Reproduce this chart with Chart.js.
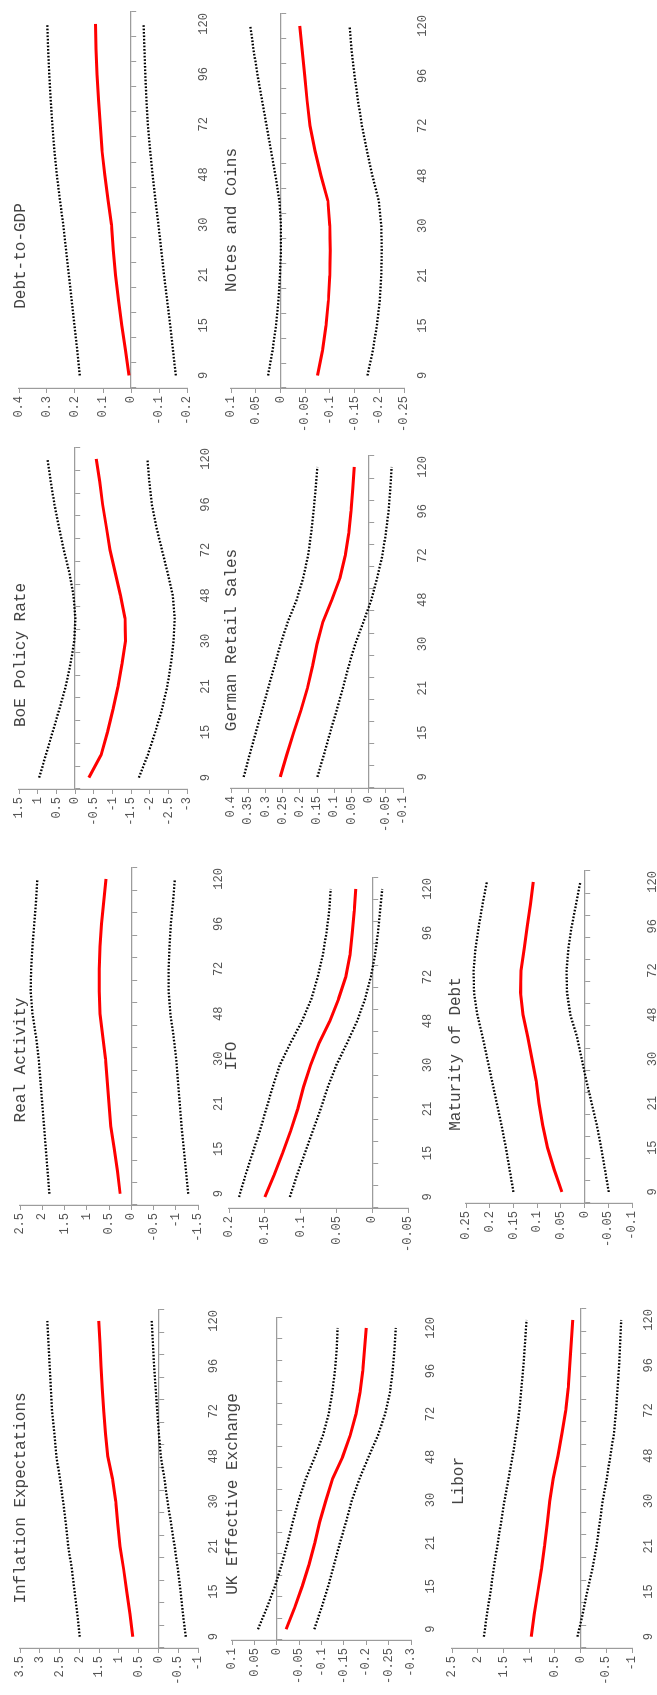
<!DOCTYPE html>
<html>
<head>
<meta charset="utf-8">
<script src="https://cdn.jsdelivr.net/npm/chart.js@4.4.1/dist/chart.umd.min.js"></script>
<style>
html, body { margin: 0; padding: 0; background: #fff; overflow: hidden; }
#page { position: relative; width: 657px; height: 1695px; overflow: hidden; }
/* the whole figure is laid out in landscape and turned a quarter left */
#fig { position: absolute; left: 0; top: 0; width: 1695px; height: 657px;
       transform-origin: 0 0; transform: translate(0px, 1695px) rotate(-90deg); }
#fig canvas { position: absolute; }
</style>
</head>
<body>
<div id="page"><div id="fig"></div></div>
<script>
const horizons = [9, 12, 15, 18, 21, 24, 30, 36, 48, 60, 72, 84, 96, 108, 120];
const tickLabels = [9, 15, 21, 30, 48, 72, 96, 120];

const inflMid = [0.65, 0.72, 0.80, 0.88, 0.97, 1.03, 1.08, 1.16, 1.28, 1.34, 1.38, 1.42, 1.45, 1.48, 1.51];
const inflUp  = [1.99, 2.05, 2.12, 2.19, 2.28, 2.34, 2.41, 2.49, 2.58, 2.63, 2.69, 2.72, 2.75, 2.78, 2.81];
const inflLo  = [-0.69, -0.62, -0.56, -0.49, -0.41, -0.32, -0.23, -0.15, -0.06, -0.01, 0.03, 0.07, 0.11, 0.14, 0.17];

const realMid = [0.25, 0.31, 0.38, 0.46, 0.50, 0.54, 0.58, 0.64, 0.70, 0.72, 0.72, 0.70, 0.67, 0.62, 0.57];
const realUp  = [1.84, 1.88, 1.92, 1.96, 2.00, 2.04, 2.08, 2.14, 2.22, 2.26, 2.25, 2.22, 2.18, 2.14, 2.11];
const realLo  = [-1.28, -1.23, -1.18, -1.13, -1.09, -1.05, -1.01, -0.95, -0.88, -0.84, -0.84, -0.86, -0.89, -0.94, -0.98];

const boeMid = [-0.37, -0.70, -0.87, -1.02, -1.15, -1.26, -1.35, -1.34, -1.22, -1.08, -0.94, -0.84, -0.74, -0.66, -0.57];
const boeUp  = [0.96, 0.78, 0.60, 0.42, 0.25, 0.12, 0.02, -0.01, 0.04, 0.15, 0.30, 0.43, 0.55, 0.65, 0.74];
const boeLo  = [-1.71, -1.95, -2.15, -2.33, -2.47, -2.57, -2.64, -2.67, -2.62, -2.48, -2.33, -2.18, -2.06, -1.99, -1.94];

const debtMid = [0.007, 0.02, 0.033, 0.045, 0.055, 0.063, 0.07, 0.082, 0.094, 0.104, 0.11, 0.116, 0.121, 0.125, 0.127];
const debtUp  = [0.183, 0.192, 0.202, 0.212, 0.222, 0.232, 0.242, 0.254, 0.265, 0.274, 0.281, 0.287, 0.292, 0.296, 0.299];
const debtLo  = [-0.16, -0.15, -0.14, -0.129, -0.118, -0.108, -0.098, -0.087, -0.077, -0.068, -0.06, -0.055, -0.051, -0.048, -0.045];

const ukMid = [-0.021, -0.040, -0.057, -0.072, -0.085, -0.096, -0.110, -0.125, -0.147, -0.164, -0.177, -0.186, -0.192, -0.196, -0.200];
const ukUp  = [0.042, 0.022, 0.004, -0.011, -0.024, -0.036, -0.049, -0.065, -0.085, -0.103, -0.116, -0.124, -0.130, -0.134, -0.136];
const ukLo  = [-0.084, -0.100, -0.115, -0.128, -0.141, -0.155, -0.168, -0.185, -0.205, -0.226, -0.242, -0.253, -0.259, -0.263, -0.266];

const ifoMid = [0.150, 0.137, 0.125, 0.114, 0.104, 0.096, 0.086, 0.074, 0.059, 0.047, 0.037, 0.031, 0.028, 0.025, 0.023];
const ifoUp  = [0.186, 0.177, 0.167, 0.157, 0.148, 0.139, 0.129, 0.114, 0.098, 0.085, 0.076, 0.069, 0.064, 0.060, 0.058];
const ifoLo  = [0.115, 0.105, 0.094, 0.083, 0.072, 0.062, 0.050, 0.035, 0.021, 0.010, 0.002, -0.004, -0.008, -0.011, -0.014];

const grsMid = [0.257, 0.238, 0.218, 0.197, 0.178, 0.163, 0.150, 0.133, 0.107, 0.083, 0.068, 0.058, 0.051, 0.046, 0.042];
const grsUp  = [0.363, 0.346, 0.328, 0.310, 0.292, 0.274, 0.256, 0.235, 0.209, 0.190, 0.176, 0.167, 0.160, 0.154, 0.149];
const grsLo  = [0.149, 0.130, 0.112, 0.093, 0.075, 0.058, 0.039, 0.015, -0.008, -0.025, -0.040, -0.050, -0.058, -0.063, -0.067];

const notesMid = [-0.075, -0.085, -0.092, -0.097, -0.100, -0.101, -0.100, -0.096, -0.082, -0.070, -0.060, -0.054, -0.049, -0.044, -0.039];
const notesUp  = [0.025, 0.016, 0.009, 0.004, 0.001, -0.001, -0.001, 0.002, 0.010, 0.019, 0.028, 0.037, 0.046, 0.054, 0.061];
const notesLo  = [-0.176, -0.187, -0.195, -0.201, -0.204, -0.205, -0.204, -0.199, -0.186, -0.175, -0.165, -0.157, -0.150, -0.144, -0.140];

const liborMid = [0.96, 0.90, 0.83, 0.76, 0.70, 0.65, 0.60, 0.53, 0.44, 0.36, 0.29, 0.24, 0.21, 0.18, 0.15];
const liborUp  = [1.88, 1.82, 1.75, 1.69, 1.62, 1.55, 1.48, 1.40, 1.32, 1.25, 1.19, 1.15, 1.11, 1.08, 1.05];
const liborLo  = [0.06, -0.04, -0.13, -0.23, -0.31, -0.37, -0.43, -0.51, -0.58, -0.65, -0.69, -0.72, -0.75, -0.77, -0.79];

const matMid = [0.048, 0.064, 0.078, 0.088, 0.096, 0.102, 0.111, 0.120, 0.130, 0.135, 0.134, 0.127, 0.121, 0.114, 0.108];
const matUp  = [0.150, 0.158, 0.166, 0.175, 0.185, 0.195, 0.205, 0.215, 0.226, 0.233, 0.234, 0.230, 0.223, 0.215, 0.206];
const matLo  = [-0.051, -0.043, -0.035, -0.026, -0.015, -0.004, 0.006, 0.016, 0.030, 0.037, 0.038, 0.034, 0.027, 0.018, 0.009];

// layout (landscape px): box = [y-axis x, right end, top tick y, bottom tick y]
const panels = [
  { title: 'Inflation Expectations', mid: inflMid, up: inflUp, lo: inflLo, min: -1, max: 3.5, step: 0.5, box: [47, 390, 20, 198], lab: 15, tx: 197, ty: 21 },
  { title: 'Real Activity', mid: realMid, up: realUp, lo: realLo, min: -1.5, max: 2.5, step: 0.5, box: [490, 837, 20, 198], lab: 20, tx: 635, ty: 21 },
  { title: 'BoE Policy Rate', mid: boeMid, up: boeUp, lo: boeLo, min: -3, max: 1.5, step: 0.5, box: [906, 1255, 19, 187], lab: 18, tx: 1040, ty: 21 },
  { title: 'Debt-to-GDP', mid: debtMid, up: debtUp, lo: debtLo, min: -0.2, max: 0.4, step: 0.1, box: [1307, 1688, 19, 187], lab: 16, tx: 1439, ty: 21 },
  { title: 'UK Effective Exchange', mid: ukMid, up: ukUp, lo: ukLo, min: -0.3, max: 0.1, step: 0.05, box: [55, 387, 232, 411], lab: 19, tx: 201, ty: 233 },
  { title: 'IFO', mid: ifoMid, up: ifoUp, lo: ifoLo, min: -0.05, max: 0.2, step: 0.05, box: [487, 826, 229, 408], lab: 19, tx: 639, ty: 232 },
  { title: 'German Retail Sales', mid: grsMid, up: grsUp, lo: grsLo, min: -0.1, max: 0.4, step: 0.05, box: [907, 1248, 231, 403], lab: 19, tx: 1055, ty: 232 },
  { title: 'Notes and Coins', mid: notesMid, up: notesUp, lo: notesLo, min: -0.25, max: 0.1, step: 0.05, box: [1307, 1688, 231, 404], lab: 18, tx: 1475, ty: 232 },
  { title: 'Libor', mid: liborMid, up: liborUp, lo: liborLo, min: -1, max: 2.5, step: 0.5, box: [47, 392, 452, 632], lab: 16, tx: 214, ty: 459 },
  { title: 'Maturity of Debt', mid: matMid, up: matUp, lo: matLo, min: -0.1, max: 0.25, step: 0.05, box: [492, 834, 466, 632], lab: 20, tx: 641, ty: 456 }
];

const GRAY = '#9c9c9c';
const TXT = '#555';
const FONT = '"Liberation Mono", "DejaVu Sans Mono", monospace';
const YW = 45, PR = 4, XH = 30;

const panelTitle = {
  id: 'panelTitle',
  afterDraw(chart, args, opts) {
    const ctx = chart.ctx;
    ctx.save();
    ctx.font = '16px ' + FONT;
    ctx.fillStyle = '#444';
    ctx.textAlign = 'center';
    ctx.textBaseline = 'middle';
    ctx.fillText(opts.text, opts.x, opts.y);
    ctx.restore();
  }
};

const fig = document.getElementById('fig');

panels.forEach(p => {
  const [ax, rx, ty, by] = p.box;
  const PT = Math.max(12, ty - p.ty + 14);
  const left = ax - YW, top = ty - PT;
  const w = (rx - ax) + YW + PR;
  const h = (by - ty) + PT + XH;

  const cv = document.createElement('canvas');
  cv.width = w; cv.height = h;
  cv.style.left = left + 'px'; cv.style.top = top + 'px';
  cv.style.width = w + 'px'; cv.style.height = h + 'px';
  fig.appendChild(cv);

  const dotted = data => ({
    data: data, borderColor: '#000', borderWidth: 2.3, borderDash: [1.7, 1.7],
    pointRadius: 0, fill: false, tension: 0
  });

  new Chart(cv, {
    type: 'line',
    data: {
      labels: horizons,
      datasets: [
        dotted(p.up),
        dotted(p.lo),
        { data: p.mid, borderColor: '#ff0000', borderWidth: 3, pointRadius: 0, fill: false, tension: 0 }
      ]
    },
    plugins: [panelTitle],
    options: {
      responsive: false,
      animation: false,
      events: [],
      layout: { autoPadding: false, padding: { top: PT, right: PR, left: 0, bottom: 0 } },
      plugins: {
        legend: { display: false },
        tooltip: { enabled: false },
        panelTitle: { text: p.title, x: p.tx - left, y: p.ty - top }
      },
      scales: {
        x: {
          type: 'category',
          offset: true,
          grid: { display: false, drawTicks: false },
          border: { display: false },
          ticks: {
            autoSkip: false, maxRotation: 0, padding: p.lab - 6,
            color: TXT, font: { family: FONT, size: 12 },
            callback: (v, i) => tickLabels.includes(horizons[i]) ? String(horizons[i]) : ''
          },
          afterFit: s => { s.height = XH; }
        },
        x0: {
          type: 'category',
          axis: 'x',
          position: { y: 0 },
          offset: true,
          grid: { offset: true, drawOnChartArea: false, drawTicks: true, tickLength: 5, color: GRAY, lineWidth: 1 },
          border: { display: true, color: GRAY, width: 1.2 },
          ticks: { display: false },
          afterFit: s => { s.height = 0; }
        },
        y: {
          min: p.min, max: p.max,
          grid: { drawOnChartArea: false, drawTicks: true, tickLength: 5, color: GRAY },
          border: { display: true, color: GRAY, width: 1.2 },
          ticks: {
            stepSize: p.step, autoSkip: false, padding: 3, color: TXT, font: { family: FONT, size: 12 },
            callback: v => String(+v.toFixed(3))
          },
          afterFit: s => { s.width = YW; }
        }
      }
    }
  });
});
</script>
</body>
</html>
